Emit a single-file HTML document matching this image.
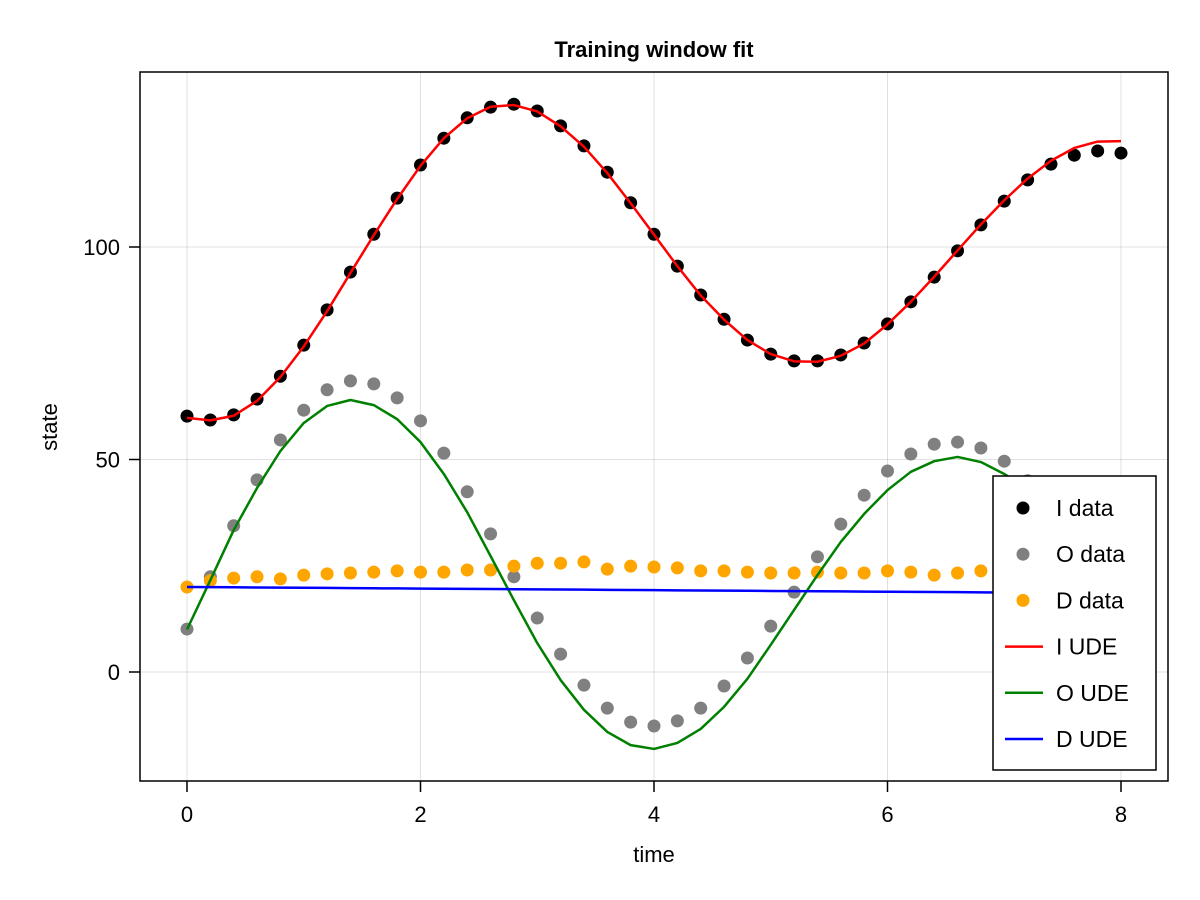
<!DOCTYPE html>
<html><head><meta charset="utf-8"><style>
html,body{margin:0;padding:0;background:#fff;}
svg{display:block;font-family:"Liberation Sans","DejaVu Sans",sans-serif;}
</style></head><body>
<svg id="chart" width="1200" height="900" viewBox="0 0 1200 900" xmlns="http://www.w3.org/2000/svg">
<rect width="1200" height="900" fill="#fff"/>
<g id="grid"></g>
<g id="series"></g>
<rect x="140" y="72" width="1028" height="709" fill="none" stroke="#000" stroke-width="1.5"/>
<g id="ticks"></g>
<text x="654" y="57" text-anchor="middle" font-size="22" font-weight="bold">Training window fit</text>
<text x="654" y="862" text-anchor="middle" font-size="22">time</text>
<text x="57" y="427" text-anchor="middle" font-size="22" transform="rotate(-90 57 427)">state</text>
<g id="legend"></g>
</svg>
<script>
const times = [0,0.2,0.4,0.6,0.8,1,1.2,1.4,1.6,1.8,2,2.2,2.4,2.6,2.8,3,3.2,3.4,3.6,3.8,4,4.2,4.4,4.6,4.8,5,5.2,5.4,5.6,5.8,6,6.2,6.4,6.6,6.8,7,7.2,7.4,7.6,7.8,8];
const iData = [60.2,59.3,60.5,64.2,69.6,76.9,85.2,94.1,103,111.5,119.3,125.6,130.4,132.9,133.6,132,128.5,123.8,117.6,110.4,103,95.5,88.7,83,78.1,74.8,73.2,73.2,74.6,77.4,81.9,87.1,92.9,99.1,105.2,110.8,115.8,119.5,121.6,122.6,122.1];
const iUde = [59.8,59.2,60.3,63.8,69.4,76.6,84.9,93.9,102.8,111.3,119.1,125.6,130.3,133,133.4,131.9,128.4,123.6,117.4,110.3,102.9,95.5,88.6,82.9,78.1,74.8,73.1,73.0,74.4,77.3,81.8,87.1,93,99.2,105.3,111,116.1,120.3,123.3,124.8,124.9];
const oData = [10.1,22.4,34.4,45.2,54.6,61.6,66.4,68.5,67.8,64.5,59.1,51.5,42.4,32.5,22.4,12.7,4.2,-3.1,-8.5,-11.8,-12.7,-11.5,-8.5,-3.3,3.3,10.8,18.8,27.1,34.8,41.6,47.3,51.3,53.6,54.1,52.7,49.6,45,39,33,27,21];
const oUde = [10,21.6,33.4,43.3,52,58.6,62.6,64,62.8,59.5,54.1,46.6,37.6,27.3,16.9,6.8,-1.9,-8.9,-14.1,-17.2,-18.1,-16.7,-13.4,-8.2,-1.6,6.4,14.6,22.8,30.6,37.2,42.8,47.1,49.6,50.6,49.4,46.6,43,38,33,28,23];
const dData = [20,21.5,22.1,22.4,21.9,22.8,23.1,23.3,23.5,23.8,23.5,23.5,24,24,24.9,25.6,25.6,25.9,24.2,24.9,24.7,24.5,23.8,23.8,23.5,23.3,23.3,23.5,23.3,23.3,23.8,23.5,22.8,23.3,23.8,23.5,23.5,23.4,23.4,23.3,23.3];
const dUde = [20,19.96,19.93,19.89,19.85,19.82,19.78,19.74,19.7,19.67,19.63,19.59,19.56,19.52,19.48,19.44,19.41,19.37,19.33,19.3,19.26,19.22,19.18,19.15,19.11,19.07,19.04,19,18.96,18.92,18.89,18.85,18.81,18.78,18.74,18.7,18.66,18.63,18.59,18.55,18.52];
const xTicks = [0,2,4,6,8];
const yTicks = [0,50,100];

const NS = "http://www.w3.org/2000/svg";
const X = t => 187 + t * 116.75;
const Y = v => 672 - v * 4.25;
function mk(tag, attrs, parent){const e=document.createElementNS(NS,tag);for(const k in attrs)e.setAttribute(k,attrs[k]);parent.appendChild(e);return e;}
const grid=document.getElementById('grid'), ticks=document.getElementById('ticks'), series=document.getElementById('series'), legend=document.getElementById('legend');

xTicks.forEach(t=>{
  const l=mk('line',{x1:X(t),x2:X(t),y1:72,y2:781,stroke:'#000','stroke-opacity':0.12,'stroke-width':1},grid);
  
  
  const m=mk('line',{x1:X(t),x2:X(t),y1:781,y2:792,stroke:'#000','stroke-width':1.5},ticks);
  
  
  const tk=mk('text',{x:X(t),y:822,'text-anchor':'middle','font-size':22},ticks);
  tk.textContent=t;
  
  
});
yTicks.forEach(v=>{
  const l=mk('line',{x1:140,x2:1168,y1:Y(v),y2:Y(v),stroke:'#000','stroke-opacity':0.12,'stroke-width':1},grid);
  
  
  const m=mk('line',{x1:129,x2:140,y1:Y(v),y2:Y(v),stroke:'#000','stroke-width':1.5},ticks);
  
  
  const tk=mk('text',{x:120,y:Y(v)+8,'text-anchor':'end','font-size':22},ticks);
  tk.textContent=v;
  
  
});

function scatter(vals,color,name){
  vals.forEach((v,i)=>{
    const c=mk('circle',{cx:X(times[i]),cy:Y(v),r:6.5,fill:color},series);
    
    
  });
}
function line(vals,color,name){
  const p=mk('polyline',{points:vals.map((v,i)=>X(times[i])+','+Y(v)).join(' '),fill:'none',stroke:color,'stroke-width':2.5,'stroke-linejoin':'round'},series);
  
  
}
scatter(iData,'#000','i-data-point');
scatter(oData,'#808080','o-data-point');
scatter(dData,'#ffa500','d-data-point');
line(iUde,'#ff0000','i-ude-line');
line(oUde,'#008000','o-ude-line');
line(dUde,'#0000ff','d-ude-line');

const lb=mk('rect',{x:993,y:476,width:163,height:294,fill:'#fff',stroke:'#000','stroke-width':1.5},legend);


const entries=[['I data','#000','pt'],['O data','#808080','pt'],['D data','#ffa500','pt'],['I UDE','#ff0000','ln'],['O UDE','#008000','ln'],['D UDE','#0000ff','ln']];
entries.forEach((e,i)=>{
  const y=508+i*46.2;
  let m;
  if(e[2]==='pt') m=mk('circle',{cx:1023,cy:y,r:6.5,fill:e[1]},legend);
  else m=mk('line',{x1:1005,x2:1043,y1:y,y2:y,stroke:e[1],'stroke-width':2.5},legend);
  
  
  const t=mk('text',{x:1056,y:y+8,'font-size':23},legend);
  t.textContent=e[0];
  
  
});
</script>
</body></html>
